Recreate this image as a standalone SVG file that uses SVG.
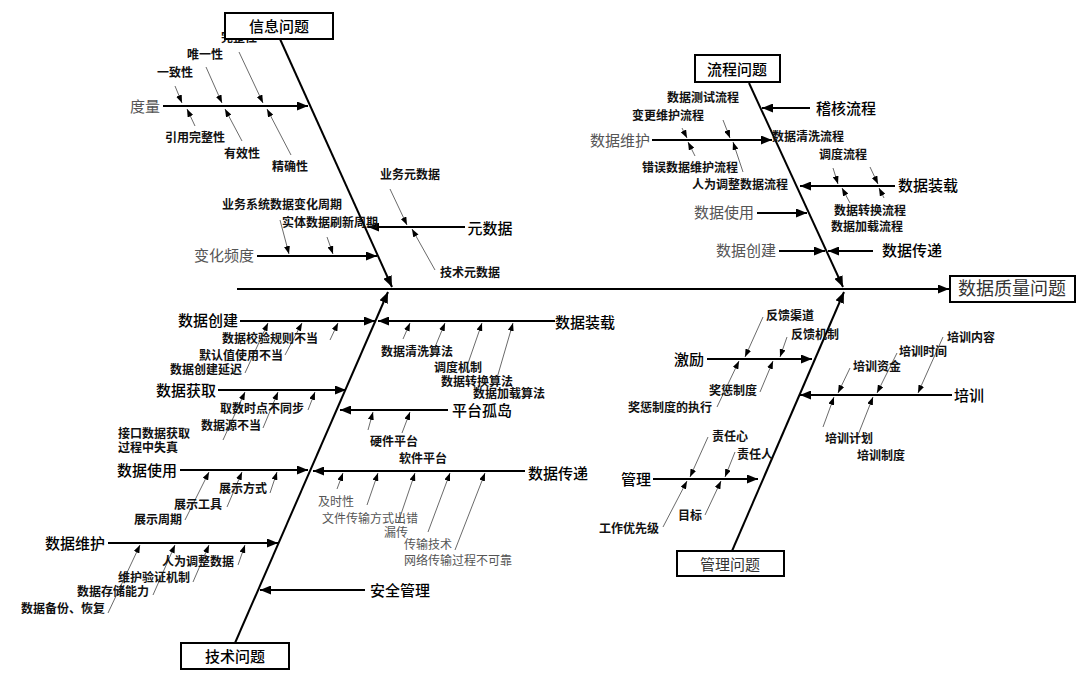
<svg xmlns="http://www.w3.org/2000/svg" width="1080" height="685" viewBox="0 0 1080 685">
<defs>
<marker id="ah" viewBox="0 0 11 9" refX="11" refY="4.5" markerWidth="11" markerHeight="9" markerUnits="userSpaceOnUse" orient="auto"><path d="M0,0 L11,4.5 L0,9 z" fill="#000"/></marker>
<marker id="as" viewBox="0 0 8 6" refX="8" refY="3" markerWidth="8" markerHeight="6" markerUnits="userSpaceOnUse" orient="auto"><path d="M0,0 L8,3 L0,6 z" fill="#000"/></marker>
</defs>
<style>
text{font-family:"Liberation Sans","Noto Sans CJK SC",sans-serif;text-anchor:middle;dominant-baseline:central}
.b{stroke:#000;stroke-width:2;fill:none}
.ba{stroke:#000;stroke-width:2;fill:none;marker-end:url(#ah)}
.t{stroke:#444;stroke-width:0.8;fill:none;marker-end:url(#as)}
.box{fill:#fff;stroke:#000;stroke-width:2}
.lg{font-size:15px;font-weight:500;fill:#000}
.gr{font-size:15px;font-weight:400;fill:#555}
.sm{font-size:12px;font-weight:700;fill:#111}
.gs{font-size:12px;font-weight:400;fill:#555}
</style>
<rect width="1080" height="685" fill="#fff"/>
<g id="connectors">
<line class="ba" x1="237" y1="289" x2="949" y2="289"/>
<line class="ba" x1="280" y1="39" x2="392" y2="287"/>
<line class="ba" x1="749" y1="83" x2="843" y2="287"/>
<line class="ba" x1="235" y1="643" x2="388" y2="292"/>
<line class="ba" x1="732" y1="551" x2="844" y2="292"/>
<!-- 信息问题 -->
<line class="ba" x1="163" y1="106" x2="308" y2="106"/>
<line class="t" x1="175" y1="86" x2="182" y2="103"/>
<line class="t" x1="206" y1="67" x2="222" y2="103"/>
<line class="t" x1="239" y1="52" x2="263" y2="103"/>
<line class="t" x1="195" y1="126" x2="187" y2="109"/>
<line class="t" x1="242" y1="141" x2="225" y2="109"/>
<line class="t" x1="291" y1="155" x2="267" y2="109"/>
<line class="ba" x1="257" y1="256" x2="377" y2="256"/>
<line class="t" x1="280" y1="220" x2="289" y2="254"/>
<line class="t" x1="327" y1="237" x2="333" y2="254"/>
<line class="ba" x1="465" y1="227" x2="368" y2="227"/>
<line class="t" x1="390" y1="189" x2="407" y2="225"/>
<line class="t" x1="435" y1="270" x2="412" y2="229"/>
<!-- 流程问题 -->
<line class="ba" x1="810" y1="108" x2="762" y2="108"/>
<line class="ba" x1="652" y1="140" x2="772" y2="140"/>
<line class="t" x1="682" y1="128" x2="687" y2="138"/>
<line class="t" x1="723" y1="120" x2="730" y2="138"/>
<line class="t" x1="695" y1="156" x2="688" y2="142"/>
<line class="t" x1="743" y1="172" x2="733" y2="142"/>
<line class="ba" x1="895" y1="186" x2="800" y2="186"/>
<line class="t" x1="833" y1="168" x2="838" y2="184"/>
<line class="t" x1="870" y1="167" x2="878" y2="184"/>
<line class="t" x1="850" y1="203" x2="842" y2="188"/>
<line class="t" x1="884" y1="198" x2="879" y2="188"/>
<line class="ba" x1="757" y1="213" x2="807" y2="213"/>
<line class="ba" x1="779" y1="251" x2="825" y2="251"/>
<line class="ba" x1="873" y1="251" x2="828" y2="251"/>
<!-- 技术问题 -->
<line class="ba" x1="240" y1="321" x2="375" y2="321"/>
<line class="t" x1="245" y1="373" x2="268" y2="323"/>
<line class="t" x1="285" y1="355" x2="302" y2="323"/>
<line class="t" x1="330" y1="340" x2="338" y2="323"/>
<line class="ba" x1="555" y1="321" x2="378" y2="321"/>
<line class="t" x1="403" y1="339" x2="410" y2="323"/>
<line class="t" x1="435" y1="347" x2="445" y2="323"/>
<line class="t" x1="465" y1="372" x2="482" y2="323"/>
<line class="t" x1="497" y1="378" x2="513" y2="323"/>
<line class="ba" x1="218" y1="390" x2="346" y2="390"/>
<line class="t" x1="223" y1="440" x2="245" y2="392"/>
<line class="t" x1="263" y1="428" x2="278" y2="392"/>
<line class="t" x1="308" y1="410" x2="315" y2="392"/>
<line class="ba" x1="448" y1="410" x2="340" y2="410"/>
<line class="t" x1="368" y1="430" x2="373" y2="412"/>
<line class="t" x1="402" y1="433" x2="410" y2="412"/>
<line class="ba" x1="180" y1="470" x2="308" y2="470"/>
<line class="t" x1="185" y1="520" x2="209" y2="472"/>
<line class="t" x1="227" y1="507" x2="242" y2="472"/>
<line class="t" x1="270" y1="493" x2="277" y2="472"/>
<line class="ba" x1="525" y1="471" x2="313" y2="471"/>
<line class="t" x1="337" y1="489" x2="343" y2="473"/>
<line class="t" x1="367" y1="505" x2="378" y2="473"/>
<line class="t" x1="398" y1="523" x2="415" y2="473"/>
<line class="t" x1="428" y1="532" x2="450" y2="473"/>
<line class="t" x1="455" y1="550" x2="485" y2="473"/>
<line class="ba" x1="108" y1="543" x2="278" y2="543"/>
<line class="t" x1="108" y1="613" x2="140" y2="545"/>
<line class="t" x1="153" y1="595" x2="175" y2="545"/>
<line class="t" x1="193" y1="582" x2="209" y2="545"/>
<line class="t" x1="238" y1="565" x2="245" y2="545"/>
<line class="ba" x1="365" y1="590" x2="260" y2="590"/>
<!-- 管理问题 -->
<line class="ba" x1="707" y1="359" x2="812" y2="359"/>
<line class="t" x1="763" y1="317" x2="745" y2="357"/>
<line class="t" x1="787" y1="337" x2="780" y2="357"/>
<line class="t" x1="717" y1="407" x2="739" y2="361"/>
<line class="t" x1="760" y1="392" x2="773" y2="361"/>
<line class="ba" x1="952" y1="395" x2="800" y2="395"/>
<line class="t" x1="850" y1="368" x2="838" y2="393"/>
<line class="t" x1="897" y1="353" x2="877" y2="393"/>
<line class="t" x1="943" y1="337" x2="918" y2="393"/>
<line class="t" x1="823" y1="427" x2="834" y2="397"/>
<line class="t" x1="858" y1="435" x2="873" y2="397"/>
<line class="ba" x1="653" y1="479" x2="758" y2="479"/>
<line class="t" x1="708" y1="437" x2="690" y2="477"/>
<line class="t" x1="735" y1="452" x2="725" y2="477"/>
<line class="t" x1="663" y1="527" x2="687" y2="481"/>
<line class="t" x1="705" y1="515" x2="721" y2="481"/>
</g>
<g id="info-labels">
<text class="sm" x="239" y="38">完整性</text>
<text class="sm" x="205" y="55">唯一性</text>
<text class="sm" x="175" y="73">一致性</text>
<text class="gr" x="145" y="106">度量</text>
<text class="sm" x="195" y="138">引用完整性</text>
<text class="sm" x="242" y="154">有效性</text>
<text class="sm" x="290" y="167">精确性</text>
<text class="sm" x="410" y="175">业务元数据</text>
<text class="sm" x="282" y="205">业务系统数据变化周期</text>
<text class="sm" x="330" y="223">实体数据刷新周期</text>
<text class="lg" x="490" y="228">元数据</text>
<text class="gr" x="224" y="255">变化频度</text>
<text class="sm" x="470" y="273">技术元数据</text>
</g>
<g id="node-info"><rect class="box" x="225" y="13" width="108" height="26"/><text class="lg" x="279" y="26">信息问题</text></g>
<g id="process-labels">
<text class="sm" x="703" y="98">数据测试流程</text>
<text class="sm" x="668" y="116">变更维护流程</text>
<text class="lg" x="846" y="108">稽核流程</text>
<text class="gr" x="620" y="140">数据维护</text>
<text class="sm" x="808" y="137">数据清洗流程</text>
<text class="sm" x="843" y="155">调度流程</text>
<text class="sm" x="690" y="168">错误数据维护流程</text>
<text class="sm" x="740" y="185">人为调整数据流程</text>
<text class="lg" x="928" y="185">数据装载</text>
<text class="gr" x="724" y="212">数据使用</text>
<text class="sm" x="870" y="211">数据转换流程</text>
<text class="sm" x="867" y="227">数据加载流程</text>
<text class="gr" x="746" y="250">数据创建</text>
<text class="lg" x="912" y="250">数据传递</text>
</g>
<g id="node-process"><rect class="box" x="695" y="55" width="85" height="27"/><text class="lg" x="737" y="69">流程问题</text></g>
<g id="node-head"><rect class="box" x="950" y="276" width="125" height="26"/><text class="gr" style="font-size:18px;fill:#333" x="1012" y="289">数据质量问题</text></g>
<g id="tech-labels">
<text class="lg" x="208" y="320">数据创建</text>
<text class="lg" x="585" y="322">数据装载</text>
<text class="sm" x="270" y="339">数据校验规则不当</text>
<text class="sm" x="241" y="356">默认值使用不当</text>
<text class="sm" x="206" y="370">数据创建延迟</text>
<text class="sm" x="417" y="352">数据清洗算法</text>
<text class="sm" x="458" y="368">调度机制</text>
<text class="sm" x="477" y="382">数据转换算法</text>
<text class="sm" x="509" y="394">数据加载算法</text>
<text class="lg" x="186" y="390">数据获取</text>
<text class="sm" x="262" y="409">取数时点不同步</text>
<text class="lg" x="482" y="410">平台孤岛</text>
<text class="sm" x="231" y="426">数据源不当</text>
<text class="sm" style="text-anchor:start" x="118" y="434">接口数据获取</text>
<text class="sm" style="text-anchor:start" x="118" y="448">过程中失真</text>
<text class="sm" x="394" y="442">硬件平台</text>
<text class="sm" x="423" y="459">软件平台</text>
<text class="lg" x="147" y="470">数据使用</text>
<text class="lg" x="558" y="473">数据传递</text>
<text class="sm" x="243" y="489">展示方式</text>
<text class="sm" x="198" y="505">展示工具</text>
<text class="sm" x="158" y="520">展示周期</text>
<text class="gs" x="336" y="502">及时性</text>
<text class="gs" x="370" y="519">文件传输方式出错</text>
<text class="gs" x="396" y="533">漏传</text>
<text class="gs" x="428" y="545">传输技术</text>
<text class="gs" x="458" y="561">网络传输过程不可靠</text>
<text class="lg" x="75" y="543">数据维护</text>
<text class="sm" x="198" y="562">人为调整数据</text>
<text class="sm" x="154" y="578">维护验证机制</text>
<text class="sm" x="113" y="592">数据存储能力</text>
<text class="sm" x="63" y="609">数据备份、恢复</text>
<text class="lg" x="400" y="590">安全管理</text>
</g>
<g id="node-tech"><rect class="box" x="181" y="643" width="108" height="26"/><text class="lg" x="235" y="656">技术问题</text></g>
<g id="mgmt-labels">
<text class="sm" x="790" y="316">反馈渠道</text>
<text class="sm" x="815" y="335">反馈机制</text>
<text class="lg" x="689" y="359">激励</text>
<text class="sm" x="733" y="391">奖惩制度</text>
<text class="sm" x="670" y="408">奖惩制度的执行</text>
<text class="sm" x="971" y="338">培训内容</text>
<text class="sm" x="923" y="352">培训时间</text>
<text class="sm" x="877" y="367">培训资金</text>
<text class="lg" x="969" y="395">培训</text>
<text class="sm" x="849" y="439">培训计划</text>
<text class="sm" x="881" y="456">培训制度</text>
<text class="sm" x="730" y="437">责任心</text>
<text class="sm" x="755" y="455">责任人</text>
<text class="lg" x="636" y="479">管理</text>
<text class="sm" x="690" y="516">目标</text>
<text class="sm" x="629" y="529">工作优先级</text>
</g>
<g id="node-mgmt"><rect class="box" x="677" y="551" width="107" height="25"/><text class="gr" style="fill:#333" x="730" y="564">管理问题</text></g>
</svg>
